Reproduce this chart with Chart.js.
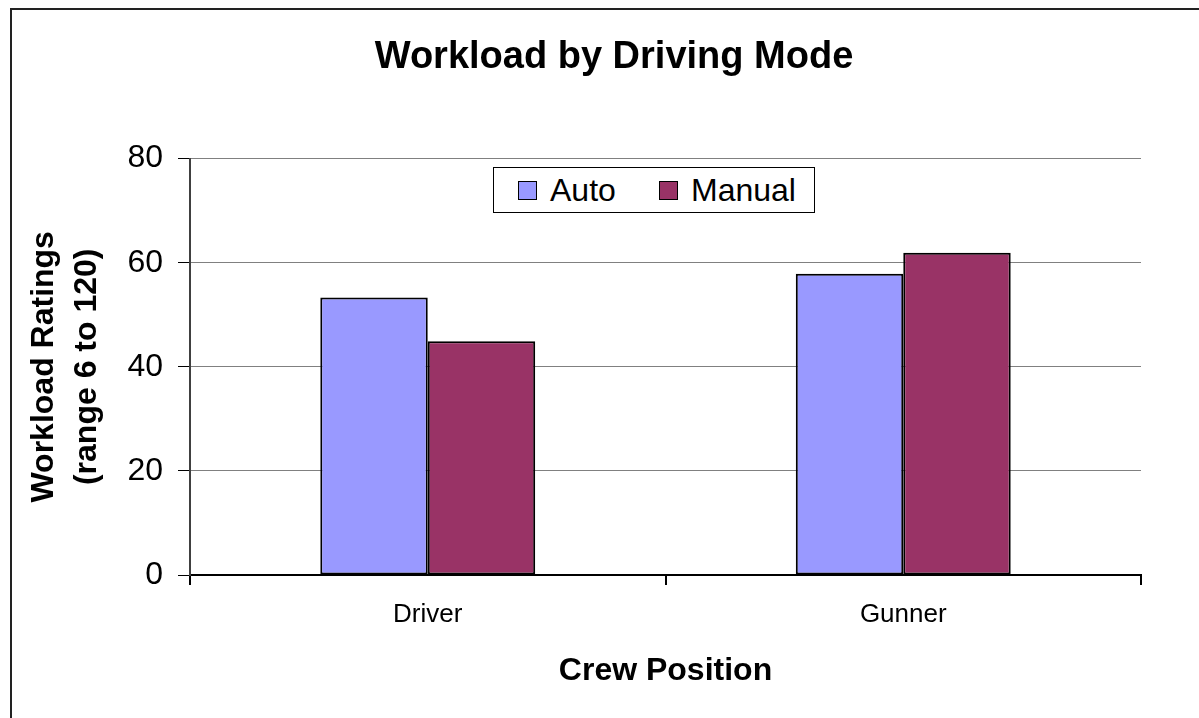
<!DOCTYPE html>
<html>
<head>
<meta charset="utf-8">
<title>Workload by Driving Mode</title>
<script src="https://cdn.jsdelivr.net/npm/chart.js@4/dist/chart.umd.min.js"></script>
<style>
  html, body { margin: 0; padding: 0; background: #fff; overflow: hidden; width: 1199px; height: 718px; }
  #frame { position: absolute; left: 10px; top: 8px; width: 1300px; height: 800px;
           border-left: 2px solid #222; border-top: 2px solid #222; }
  #chart { position: absolute; left: 0; top: 0; }
  .legend { position: absolute; left: 493px; top: 167px; width: 320px; height: 44px;
            border: 1.5px solid #000; background: #fff;
            font-family: 'Liberation Sans', Arial, sans-serif; font-size: 32px; color: #000; }
  .legend .item { position: absolute; top: 0; height: 44px; line-height: 44px; }
  .legend .swatch { position: absolute; top: 13px; width: 17px; height: 17px; border: 1.5px solid #000; }
</style>
</head>
<body>
<div id="frame"></div>
<canvas id="chart" width="1228" height="718"></canvas>
<div class="legend">
  <span class="swatch" style="left:24px;background:#9999FF"></span>
  <span class="item" style="left:56px">Auto</span>
  <span class="swatch" style="left:165px;background:#993366"></span>
  <span class="item" style="left:197px">Manual</span>
</div>
<script>
// Chart data
const positions = ['Driver', 'Gunner'];
const autoRatings = [53.3, 57.9];
const manualRatings = [44.9, 61.9];
const yTicks = [0, 20, 40, 60, 80];

const fontFamily = "'Liberation Sans', Arial, sans-serif";

document.addEventListener('DOMContentLoaded', function() {
  const ctx = document.getElementById('chart').getContext('2d');

  new Chart(ctx, {
    type: 'bar',
    data: {
      labels: positions,
      datasets: [
        {
          label: 'Auto',
          data: autoRatings,
          backgroundColor: '#9999FF',
          borderColor: '#000',
          borderWidth: 2,
          borderSkipped: false
        },
        {
          label: 'Manual',
          data: manualRatings,
          backgroundColor: '#993366',
          borderColor: '#000',
          borderWidth: 2,
          borderSkipped: false
        }
      ]
    },
    options: {
      responsive: false,
      animation: false,
      devicePixelRatio: 1,
      layout: { padding: 0 },
      datasets: {
        bar: { categoryPercentage: 0.452, barPercentage: 1.0 }
      },
      scales: {
        x: {
          grid: {
            offset: true,
            drawOnChartArea: false,
            tickLength: 10,
            tickColor: '#000',
            lineWidth: 2
          },
          border: { color: '#000', width: 2 },
          ticks: {
            color: '#000',
            padding: 14,
            font: { family: fontFamily, size: 26 }
          },
          title: {
            display: true,
            text: 'Crew Position',
            color: '#000',
            padding: { top: 0, bottom: 28 },
            font: { family: fontFamily, size: 32, weight: 'bold' }
          },
          afterFit: function(scale) { scale.height = 143; }
        },
        y: {
          min: 0,
          max: 80,
          afterBuildTicks: function(scale) {
            scale.ticks = yTicks.map(v => ({ value: v }));
          },
          grid: {
            color: '#808080',
            tickColor: '#000',
            tickLength: 12,
            lineWidth: 1
          },
          border: { color: '#404040', width: 2 },
          ticks: {
            color: '#000',
            padding: 15,
            font: { family: fontFamily, size: 32 }
          },
          title: {
            display: true,
            text: ['Workload Ratings', '(range 6 to 120)'],
            color: '#000',
            padding: { top: 23, bottom: 0 },
            font: { family: fontFamily, size: 32, weight: 'bold', lineHeight: 1.33 }
          },
          afterFit: function(scale) { scale.width = 190; }
        },
        // empty right-hand axis keeps the plot's right edge where the picture has it
        yRight: {
          type: 'linear',
          position: 'right',
          display: true,
          grid: { display: false },
          border: { display: false },
          ticks: { display: false },
          afterFit: function(scale) { scale.width = 87; }
        }
      },
      plugins: {
        legend: { display: false },
        tooltip: { enabled: false },
        title: {
          display: true,
          text: 'Workload by Driving Mode',
          color: '#000',
          padding: { top: 35, bottom: 78 },
          font: { family: fontFamily, size: 38, weight: 'bold', lineHeight: 1.2 }
        }
      }
    }
  });
});
</script>
</body>
</html>
